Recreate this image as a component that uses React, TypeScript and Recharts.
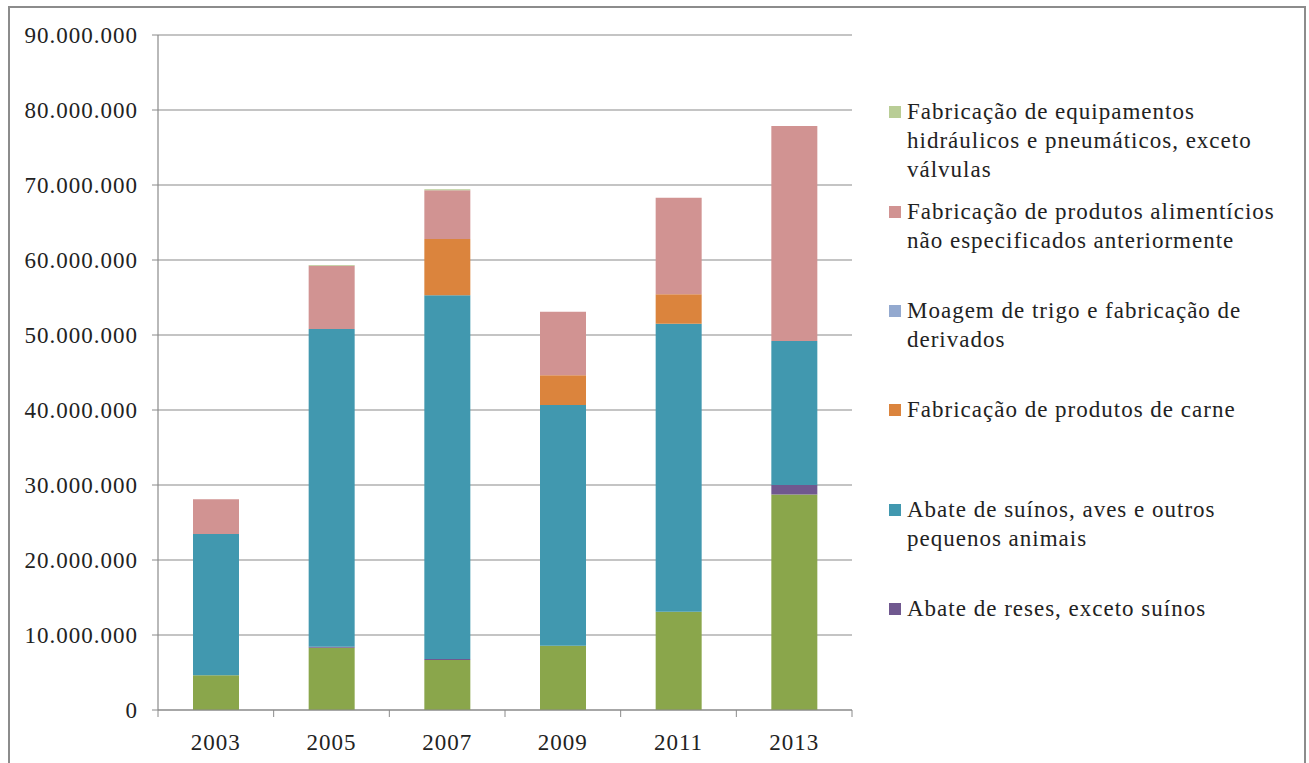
import { BarChart, Bar, XAxis, YAxis, CartesianGrid } from 'recharts';

// anos e valores (R$)
const anos = ['2003', '2005', '2007', '2009', '2011', '2013'];
const baseVerde = [4620000, 8300000, 6670000, 8580000, 13100000, 28750000];
const abateReses = [0, 150000, 130000, 0, 0, 1250000];
const abateSuinos = [18850000, 42350000, 48490000, 32090000, 38410000, 19200000];
const produtosCarne = [0, 0, 7510000, 3950000, 3910000, 0];
const moagemTrigo = [0, 0, 0, 0, 0, 0];
const alimenticios = [4620000, 8440000, 6500000, 8480000, 12890000, 28670000];
const equipamentos = [0, 100000, 130000, 0, 0, 0];
const yTicks = [0, 10000000, 20000000, 30000000, 40000000, 50000000, 60000000, 70000000, 80000000, 90000000];

const data = anos.map((ano, i) => ({
  ano,
  base: baseVerde[i],
  reses: abateReses[i],
  suinos: abateSuinos[i],
  carne: produtosCarne[i],
  trigo: moagemTrigo[i],
  alimenticios: alimenticios[i],
  equipamentos: equipamentos[i],
}));

const legendItems = [
  { color: '#B9CD96', lines: ['Fabricação de equipamentos', 'hidráulicos e pneumáticos, exceto', 'válvulas'], top: 112 },
  { color: '#D19392', lines: ['Fabricação de produtos alimentícios', 'não especificados anteriormente'], top: 212 },
  { color: '#93A9CF', lines: ['Moagem de trigo e fabricação de', 'derivados'], top: 311 },
  { color: '#DB843D', lines: ['Fabricação de produtos de carne'], top: 410 },
  { color: '#4198AF', lines: ['Abate de suínos, aves e outros', 'pequenos animais'], top: 510 },
  { color: '#70588F', lines: ['Abate de reses, exceto suínos'], top: 609 },
];

const FONT = 'Liberation Serif, Times New Roman, serif';
const FS = 23;
const LS = 1;
const CHART_W = 860;
const CHART_H = 763;
const Y_W = 158;
const M_RIGHT = 8;
const BAND = (CHART_W - Y_W - M_RIGHT) / anos.length;
const GRID = '#8a8a8a';

const fmt = (v: number) => v.toLocaleString('de-DE');

const XTick = ({ x, y, payload, index }: any) => {
  const axisY = y;
  return (
    <g>
      <line x1={x - BAND / 2} x2={x - BAND / 2} y1={axisY} y2={axisY + 7} stroke={GRID} />
      {index === anos.length - 1 && (
        <line x1={x + BAND / 2} x2={x + BAND / 2} y1={axisY} y2={axisY + 7} stroke={GRID} />
      )}
      <text x={x} y={axisY + 40} textAnchor="middle" fill="#222" fontSize={FS} letterSpacing={LS} fontFamily={FONT}>
        {payload.value}
      </text>
    </g>
  );
};

export default function App() {
  return (
    <div style={{ position: 'absolute', left: 0, top: 0, width: 1309, height: 763, overflow: 'hidden', background: '#fff' }}>
      <div style={{ position: 'absolute', left: 8, top: 6, width: 1294, height: 800, border: '2px solid #8c8c8c' }} />
      <div style={{ position: 'absolute', left: 0, top: 0 }}>
        <BarChart width={CHART_W} height={CHART_H} data={data} margin={{ top: 35, right: M_RIGHT, left: 0, bottom: 10 }} barSize={46}>
          <CartesianGrid vertical={false} stroke={GRID} strokeWidth={1.2} />
          <XAxis
            dataKey="ano"
            height={43}
            tickLine={false}
            tickSize={0}
            tickMargin={0}
            axisLine={{ stroke: GRID, strokeWidth: 1.2 }}
            tick={<XTick />}
            interval={0}
          />
          <YAxis
            width={Y_W}
            domain={[0, 90000000]}
            ticks={yTicks}
            tickFormatter={fmt}
            tickSize={6}
            tickMargin={14}
            tickLine={{ stroke: GRID }}
            axisLine={{ stroke: GRID, strokeWidth: 1.2 }}
            tick={{ fill: '#222', fontSize: FS, fontFamily: FONT, letterSpacing: LS }}
          />
          <Bar dataKey="base" stackId="a" fill="#8AA64B" isAnimationActive={false} />
          <Bar dataKey="reses" stackId="a" fill="#70588F" isAnimationActive={false} />
          <Bar dataKey="suinos" stackId="a" fill="#4198AF" isAnimationActive={false} />
          <Bar dataKey="carne" stackId="a" fill="#DB843D" isAnimationActive={false} />
          <Bar dataKey="trigo" stackId="a" fill="#93A9CF" isAnimationActive={false} />
          <Bar dataKey="alimenticios" stackId="a" fill="#D19392" isAnimationActive={false} />
          <Bar dataKey="equipamentos" stackId="a" fill="#B9CD96" isAnimationActive={false} />
        </BarChart>
      </div>
      {legendItems.map((item) => (
        <div key={item.lines[0]} style={{ position: 'absolute', left: 889, top: item.top - 15, fontFamily: FONT, fontSize: FS, letterSpacing: LS, lineHeight: '29px', color: '#222' }}>
          <div style={{ position: 'absolute', left: 0, top: 9, width: 12, height: 12, background: item.color }} />
          <div style={{ marginLeft: 18, whiteSpace: 'nowrap' }}>
            {item.lines.map((l) => (
              <div key={l}>{l}</div>
            ))}
          </div>
        </div>
      ))}
    </div>
  );
}
